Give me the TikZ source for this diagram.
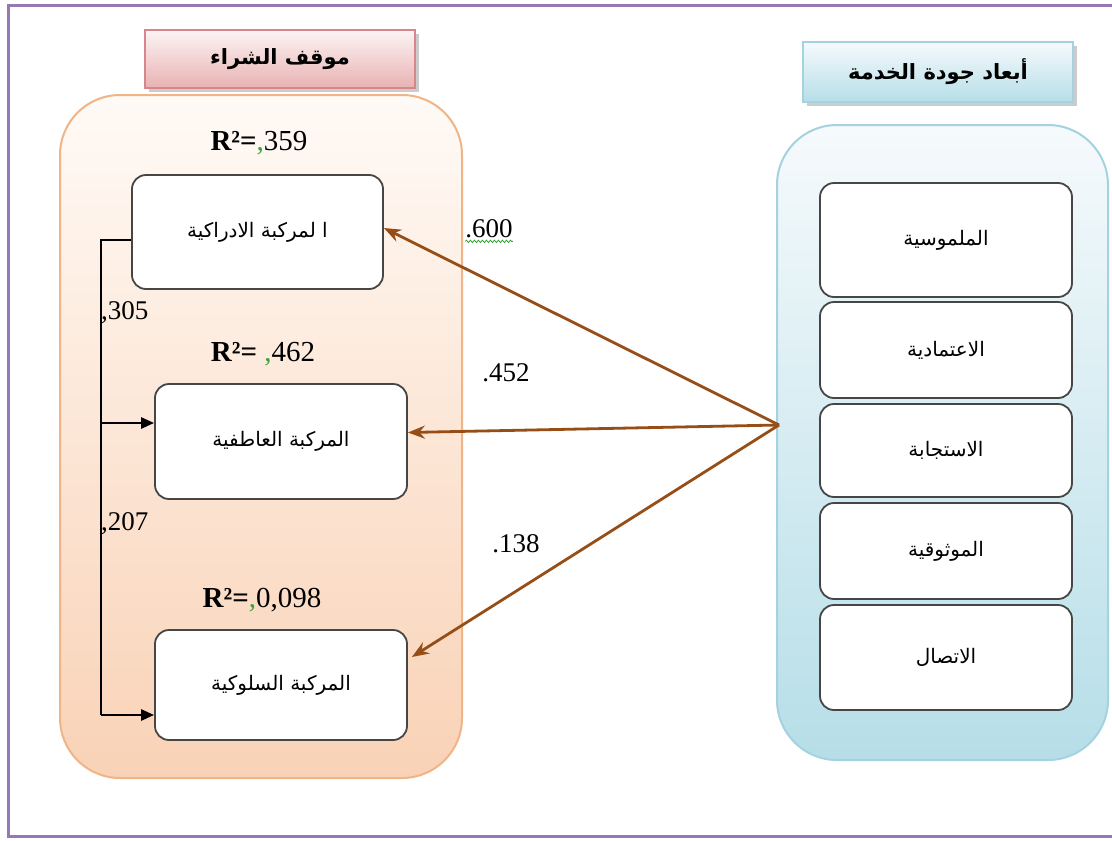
\documentclass[tikz,border=0pt]{standalone}
\usepackage{fontspec}
\setmainfont{Liberation Serif}
\newfontfamily\arabicfont[Script=Arabic]{DejaVu Sans}
\TeXXeTstate=1
\usetikzlibrary{shadows,decorations.pathmorphing,arrows.meta}
\definecolor{framecol}{RGB}{150,120,180}
\definecolor{peachtop}{RGB}{255,250,246}
\definecolor{peachbot}{RGB}{249,210,182}
\definecolor{peachline}{RGB}{240,180,135}
\definecolor{bluetop}{RGB}{246,250,252}
\definecolor{bluebot}{RGB}{182,222,232}
\definecolor{blueline}{RGB}{165,210,225}
\definecolor{pinktop}{RGB}{253,244,244}
\definecolor{pinkbot}{RGB}{232,178,178}
\definecolor{pinkline}{RGB}{215,135,140}
\definecolor{brownarr}{RGB}{150,78,22}
\definecolor{boxline}{RGB}{70,70,70}
\definecolor{commagreen}{RGB}{60,160,60}
\newcommand{\ar}[1]{{\arabicfont\beginR #1\endR}}
\begin{document}
\begin{tikzpicture}[x=1pt,y=-1pt,
  leftcont/.style={rounded corners=60pt, draw=peachline, line width=2pt,
    top color=peachtop, bottom color=peachbot, minimum width=402pt, minimum height=683pt},
  rightcont/.style={rounded corners=60pt, draw=blueline, line width=2pt,
    top color=bluetop, bottom color=bluebot, minimum width=331pt, minimum height=635pt},
  pinktitle/.style={draw=pinkline, line width=1.6pt, top color=pinktop, bottom color=pinkbot,
    minimum width=270pt, minimum height=58pt, drop shadow={shadow xshift=4pt, shadow yshift=-4pt, opacity=0.4},
    font=\fontsize{21}{24}\selectfont\bfseries},
  bluetitle/.style={draw=blueline, line width=1.6pt, top color=bluetop, bottom color=bluebot,
    minimum width=270pt, minimum height=60pt, drop shadow={shadow xshift=4pt, shadow yshift=-4pt, opacity=0.4},
    font=\fontsize{21}{24}\selectfont\bfseries},
  innerbox/.style={draw=boxline, line width=1.8pt, fill=white, rounded corners=14pt,
    font=\fontsize{20}{24}\selectfont},
  rlabel/.style={font=\fontsize{29}{32}\selectfont, inner sep=0pt},
  coef/.style={font=\fontsize{27}{30}\selectfont, inner sep=0pt},
  brownline/.style={draw=brownarr, line width=2.8pt, -{Stealth[length=17pt,width=13pt]}},
  blackline/.style={draw=black, line width=2.6pt},
  blackarrow/.style={draw=black, line width=2.6pt, -{Triangle[length=13pt,width=11pt]}}
]
\useasboundingbox (0,0) rectangle (1112,841);
\fill[white] (0,0) rectangle (1112,841);
% frame
\draw[framecol, line width=3pt] (1114,5) -- (8,5) -- (8,836) -- (1114,836);

% containers
\node[leftcont] (lc) at (261,436.5) {};
\node[rightcont] (rc) at (942.5,442.5) {};

% titles
\node[pinktitle] (lt) at (280,59) {\ar{موقف الشراء}};
\node[bluetitle] (rt) at (938,72) {\ar{أبعاد جودة الخدمة}};

% right inner boxes
\node[innerbox, minimum width=252pt, minimum height=114pt] (d1) at (946,240) {\ar{الملموسية}};
\node[innerbox, minimum width=252pt, minimum height=96pt] (d2) at (946,350) {\ar{الاعتمادية}};
\node[innerbox, minimum width=252pt, minimum height=93pt] (d3) at (946,450.5) {\ar{الاستجابة}};
\node[innerbox, minimum width=252pt, minimum height=96pt] (d4) at (946,551) {\ar{الموثوقية}};
\node[innerbox, minimum width=252pt, minimum height=105pt] (d5) at (946,657.5) {\ar{الاتصال}};

% left inner boxes
\node[innerbox, minimum width=251pt, minimum height=114pt] (A) at (257.5,232) {\ar{ا لمركبة الادراكية}};
\node[innerbox, minimum width=252pt, minimum height=115pt] (B) at (281,441.5) {\ar{المركبة العاطفية}};
\node[innerbox, minimum width=252pt, minimum height=110pt] (C) at (281,685) {\ar{المركبة السلوكية}};

% R^2 labels
\node[rlabel] (r1) at (259,143) {\textbf{R²=}\textcolor{commagreen}{,}359};
\node[rlabel] (r2) at (263,354) {\textbf{R²=} \textcolor{commagreen}{,}462};
\node[rlabel] (r3) at (262,600) {\textbf{R²=}\textcolor{commagreen}{,}0,098};

% black connectors
\coordinate (j1) at (101,240);
\coordinate (j2) at (101,423);
\coordinate (j3) at (101,715);
\draw[blackline] (A.west |- j1) -- (j1) -- (j3);
\draw[blackarrow] (j2) -- (j2 -| B.west);
\draw[blackarrow] (j3) -- (j3 -| C.west);
\node[coef, anchor=west] (c305) at (101,313) {,305};
\node[coef, anchor=west] (c207) at (101,524) {,207};

% brown arrows
\coordinate (src) at (779,425);
\draw[brownline] (src) -- ([yshift=4pt]A.east);
\draw[brownline] (src) -- ([yshift=9pt]B.east);
\draw[brownline] (src) -- ([xshift=4pt,yshift=28pt]C.east);
\node[coef] (c600) at (489,229) {.600};
\draw[commagreen, line width=0.8pt, decorate, decoration={snake, amplitude=1.2pt, segment length=4pt}]
  ([yshift=-3pt]c600.south west) -- ([yshift=-3pt]c600.south east);
\node[coef] (c452) at (506,373) {.452};
\node[coef] (c138) at (516,544) {.138};
\end{tikzpicture}
\end{document}
